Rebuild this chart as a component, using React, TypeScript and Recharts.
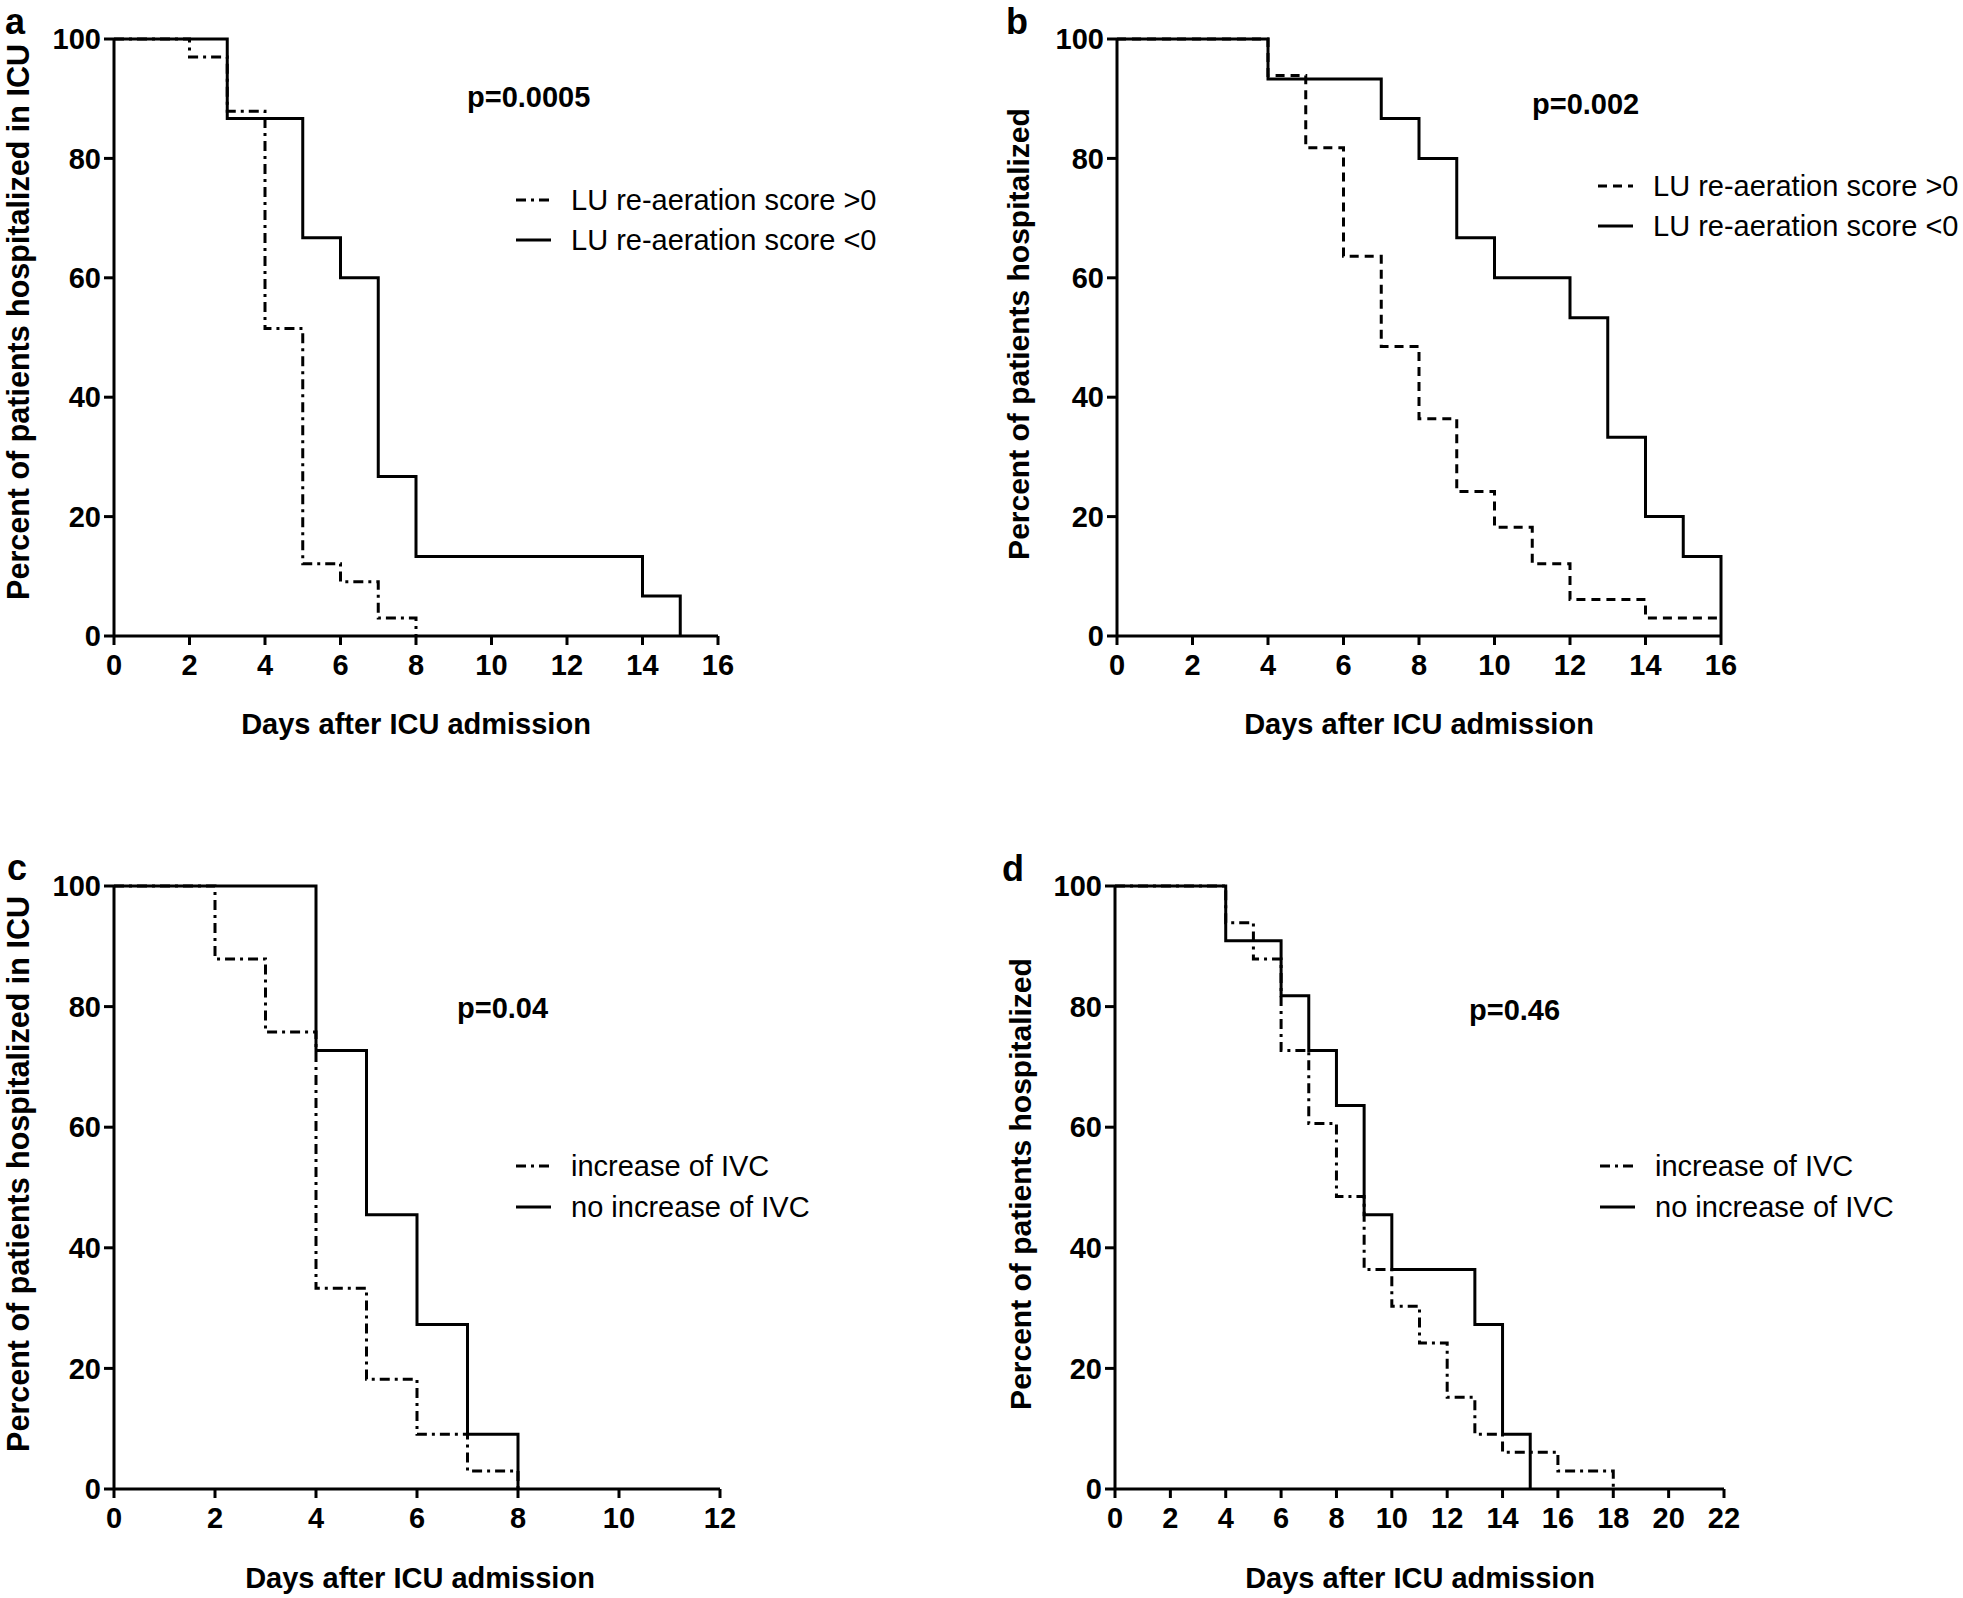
import { LineChart, Line, XAxis, YAxis } from "recharts";

const FONT = '"Liberation Sans", Arial, Helvetica, sans-serif';

// panel a: LU re-aeration, ICU stay
const aPosDays = [0, 2, 3, 4, 5, 6, 7, 8];
const aPosPct = [100, 97.0, 87.9, 51.5, 12.1, 9.1, 3.0, 0];
const aNegDays = [0, 3, 5, 6, 7, 8, 14, 15];
const aNegPct = [100, 86.7, 66.7, 60.0, 26.7, 13.3, 6.7, 0];

// panel b: LU re-aeration, hospital stay
const bPosDays = [0, 4, 5, 6, 7, 8, 9, 10, 11, 12, 14, 16];
const bPosPct = [100, 93.9, 81.8, 63.6, 48.5, 36.4, 24.2, 18.2, 12.1, 6.1, 3.0, 3.0];
const bNegDays = [0, 4, 7, 8, 9, 10, 12, 13, 14, 15, 16];
const bNegPct = [100, 93.3, 86.7, 80.0, 66.7, 60.0, 53.3, 33.3, 20.0, 13.3, 0];

// panel c: IVC, ICU stay
const cIncDays = [0, 2, 3, 4, 5, 6, 7, 8];
const cIncPct = [100, 87.9, 75.8, 33.3, 18.2, 9.1, 3.0, 0];
const cNoDays = [0, 4, 5, 6, 7, 8];
const cNoPct = [100, 72.7, 45.5, 27.3, 9.1, 0];

// panel d: IVC, hospital stay
const dIncDays = [0, 4, 5, 6, 7, 8, 9, 10, 11, 12, 13, 14, 16, 18];
const dIncPct = [100, 93.9, 87.9, 72.7, 60.6, 48.5, 36.4, 30.3, 24.2, 15.2, 9.1, 6.1, 3.0, 0];
const dNoDays = [0, 4, 6, 7, 8, 9, 10, 13, 14, 15];
const dNoPct = [100, 90.9, 81.8, 72.7, 63.6, 45.5, 36.4, 27.3, 9.1, 0];

const yTicks = [0, 20, 40, 60, 80, 100];
const xTicks16 = [0, 2, 4, 6, 8, 10, 12, 14, 16];
const xTicks12 = [0, 2, 4, 6, 8, 10, 12];
const xTicks22 = [0, 2, 4, 6, 8, 10, 12, 14, 16, 18, 20, 22];

const DASH_DOT = "10 5 3 5";
const DASHED = "9 6";

const toPoints = (xs: number[], ys: number[]) => xs.map((x, i) => ({ x, y: ys[i] }));

type Series = { name: string; points: { x: number; y: number }[]; dash?: string };

type PanelProps = {
  left: number;
  top: number;
  width: number;
  height: number;
  plot: { x0: number; x1: number; y0: number; y1: number };
  xTicks: number[];
  series: Series[];
};

const tickStyle = { fill: "#000", fontSize: 29, fontWeight: 700, fontFamily: FONT };

function Panel({ left, top, width, height, plot, xTicks, series }: PanelProps) {
  const yAxisW = plot.x0 - left;
  const xAxisH = top + height - plot.y1;
  return (
    <div style={{ position: "absolute", left, top, width, height }}>
      <LineChart
        width={width}
        height={height}
        margin={{ top: plot.y0 - top, right: left + width - plot.x1, left: 0, bottom: 0 }}
      >
        <XAxis
          type="number"
          dataKey="x"
          domain={[0, xTicks[xTicks.length - 1]]}
          ticks={xTicks}
          interval={0}
          height={xAxisH}
          tick={tickStyle}
          tickSize={9}
          tickMargin={9}
          axisLine={{ stroke: "#000", strokeWidth: 3 }}
          tickLine={{ stroke: "#000", strokeWidth: 3 }}
        />
        <YAxis
          type="number"
          domain={[0, 100]}
          ticks={yTicks}
          interval={0}
          width={yAxisW}
          tick={tickStyle}
          tickSize={10}
          tickMargin={3}
          axisLine={{ stroke: "#000", strokeWidth: 3 }}
          tickLine={{ stroke: "#000", strokeWidth: 3 }}
        />
        {series.map((s) => (
          <Line
            key={s.name}
            data={s.points}
            dataKey="y"
            name={s.name}
            type="stepAfter"
            stroke="#000"
            strokeWidth={3}
            strokeDasharray={s.dash}
            dot={false}
            activeDot={false}
            isAnimationActive={false}
          />
        ))}
      </LineChart>
    </div>
  );
}

function LegendRows({ x, y, gap, items }: { x: number; y: number; gap: number; items: { label: string; dash?: string }[] }) {
  return (
    <g>
      {items.map((it, i) => (
        <g key={it.label}>
          <line x1={x} x2={x + 35} y1={y + i * gap} y2={y + i * gap} stroke="#000" strokeWidth={3} strokeDasharray={it.dash} />
          <text x={x + 55} y={y + i * gap} dominantBaseline="central" fontSize={29} fontFamily={FONT} fill="#000">
            {it.label}
          </text>
        </g>
      ))}
    </g>
  );
}

function YTitle({ x, y, size, text }: { x: number; y: number; size: number; text: string }) {
  return (
    <text
      transform={`translate(${x},${y}) rotate(-90)`}
      textAnchor="middle"
      dominantBaseline="central"
      fontSize={size}
      fontWeight={700}
      fontFamily={FONT}
      fill="#000"
    >
      {text}
    </text>
  );
}

const boldText = { fontWeight: 700, fontFamily: FONT, fill: "#000" };

export default function App() {
  const luLegend = [
    { label: "LU re-aeration score >0", dash: DASH_DOT },
    { label: "LU re-aeration score <0" },
  ];
  const luLegendB = [
    { label: "LU re-aeration score >0", dash: DASHED },
    { label: "LU re-aeration score <0" },
  ];
  const ivcLegend = [
    { label: "increase of IVC", dash: DASH_DOT },
    { label: "no increase of IVC" },
  ];

  return (
    <div style={{ position: "absolute", left: 0, top: 0, width: 1963, height: 1598, background: "#fff", overflow: "hidden" }}>
      <Panel
        left={0}
        top={0}
        width={760}
        height={780}
        plot={{ x0: 114, x1: 718, y0: 39, y1: 636 }}
        xTicks={xTicks16}
        series={[
          { name: "LU re-aeration score >0", points: toPoints(aPosDays, aPosPct), dash: DASH_DOT },
          { name: "LU re-aeration score <0", points: toPoints(aNegDays, aNegPct) },
        ]}
      />
      <Panel
        left={990}
        top={0}
        width={973}
        height={780}
        plot={{ x0: 1117, x1: 1721, y0: 39, y1: 636 }}
        xTicks={xTicks16}
        series={[
          { name: "LU re-aeration score >0", points: toPoints(bPosDays, bPosPct), dash: DASHED },
          { name: "LU re-aeration score <0", points: toPoints(bNegDays, bNegPct) },
        ]}
      />
      <Panel
        left={0}
        top={850}
        width={760}
        height={748}
        plot={{ x0: 114, x1: 720, y0: 886, y1: 1489 }}
        xTicks={xTicks12}
        series={[
          { name: "increase of IVC", points: toPoints(cIncDays, cIncPct), dash: DASH_DOT },
          { name: "no increase of IVC", points: toPoints(cNoDays, cNoPct) },
        ]}
      />
      <Panel
        left={990}
        top={850}
        width={973}
        height={748}
        plot={{ x0: 1115, x1: 1724, y0: 886, y1: 1489 }}
        xTicks={xTicks22}
        series={[
          { name: "increase of IVC", points: toPoints(dIncDays, dIncPct), dash: DASH_DOT },
          { name: "no increase of IVC", points: toPoints(dNoDays, dNoPct) },
        ]}
      />

      <svg width={1963} height={1598} style={{ position: "absolute", left: 0, top: 0, pointerEvents: "none" }}>
        {/* panel letters */}
        <text x={5} y={34} fontSize={36} {...boldText}>a</text>
        <text x={1006} y={34} fontSize={36} {...boldText}>b</text>
        <text x={7} y={880} fontSize={36} {...boldText}>c</text>
        <text x={1002} y={881} fontSize={36} {...boldText}>d</text>

        {/* p values */}
        <text x={467} y={107} fontSize={29} {...boldText}>p=0.0005</text>
        <text x={1532} y={114} fontSize={29} {...boldText}>p=0.002</text>
        <text x={457} y={1018} fontSize={29} {...boldText}>p=0.04</text>
        <text x={1469} y={1020} fontSize={29} {...boldText}>p=0.46</text>

        {/* axis titles */}
        <YTitle x={18} y={322} size={30.5} text="Percent of patients hospitalized in ICU" />
        <YTitle x={1018} y={334} size={30} text="Percent of patients hospitalized" />
        <YTitle x={18} y={1174} size={30.5} text="Percent of patients hospitalized in ICU" />
        <YTitle x={1020} y={1184} size={30} text="Percent of patients hospitalized" />
        <text x={416} y={724} textAnchor="middle" dominantBaseline="central" fontSize={29} {...boldText}>Days after ICU admission</text>
        <text x={1419} y={724} textAnchor="middle" dominantBaseline="central" fontSize={29} {...boldText}>Days after ICU admission</text>
        <text x={420} y={1578} textAnchor="middle" dominantBaseline="central" fontSize={29} {...boldText}>Days after ICU admission</text>
        <text x={1420} y={1578} textAnchor="middle" dominantBaseline="central" fontSize={29} {...boldText}>Days after ICU admission</text>

        {/* legends */}
        <LegendRows x={516} y={200} gap={40} items={luLegend} />
        <LegendRows x={1598} y={186} gap={40} items={luLegendB} />
        <LegendRows x={516} y={1166} gap={41} items={ivcLegend} />
        <LegendRows x={1600} y={1166} gap={41} items={ivcLegend} />
      </svg>
    </div>
  );
}
